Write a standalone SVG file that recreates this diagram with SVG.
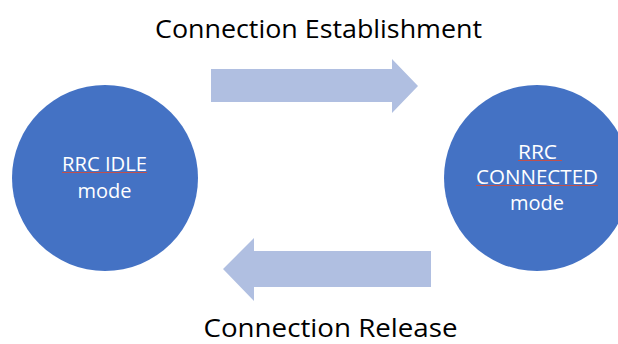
<svg xmlns="http://www.w3.org/2000/svg" width="618" height="344" viewBox="0 0 618 344">
  <style>
    .node { fill: #4472C4; }
    .arrow { fill: #B0BFE1; }
    .label { font-family: "Open Sans", "Liberation Sans", sans-serif; fill: #000000; font-size: 25px; text-anchor: middle; }
    .inner { font-family: "Open Sans", "Liberation Sans", sans-serif; fill: #FFFFFF; font-size: 20px; text-anchor: middle; }
    .squiggle { stroke: #C0504D; stroke-width: 1; fill: none; }
  </style>
  <rect width="618" height="344" fill="#FFFFFF"/>

  <g id="connectors">
    <!-- establishment: idle to connected -->
    <polygon class="arrow" points="211,69 392,69 392,59 418,86 392,113 392,102 211,102"/>
    <!-- release: connected to idle -->
    <polygon class="arrow" points="431,251 254,251 254,238 223,269 254,301 254,287 431,287"/>
    <text class="label" x="318.5" y="38" textLength="327" lengthAdjust="spacingAndGlyphs">Connection Establishment</text>
    <text class="label" x="330.5" y="337" textLength="254" lengthAdjust="spacingAndGlyphs">Connection Release</text>
  </g>

  <g id="idle">
    <circle class="node" cx="105" cy="178" r="93"/>
    <text class="inner" x="104.5" y="171" textLength="85" lengthAdjust="spacingAndGlyphs">RRC IDLE</text>
    <line class="squiggle" x1="62" y1="172.5" x2="147" y2="172.5"/>
    <text class="inner" x="104.5" y="198">mode</text>
  </g>

  <g id="connected">
    <circle class="node" cx="537" cy="178" r="93"/>
    <text class="inner" x="537.5" y="159" textLength="39" lengthAdjust="spacingAndGlyphs">RRC</text>
    <line class="squiggle" x1="518" y1="160.5" x2="562" y2="160.5"/>
    <text class="inner" x="537" y="184" textLength="122" lengthAdjust="spacingAndGlyphs">CONNECTED</text>
    <line class="squiggle" x1="476" y1="185.5" x2="598" y2="185.5"/>
    <text class="inner" x="537" y="210">mode</text>
  </g>
</svg>
